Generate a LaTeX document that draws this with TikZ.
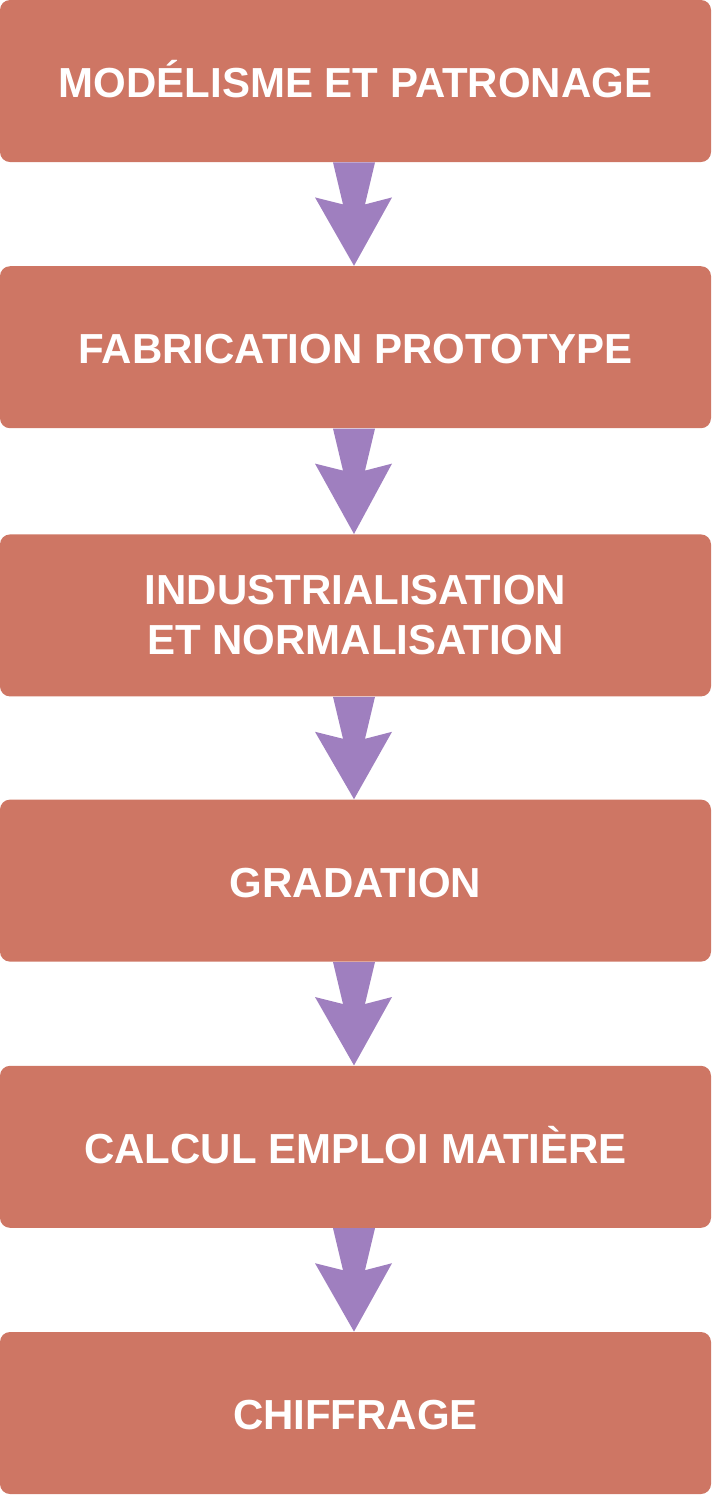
\documentclass[tikz,border=0pt]{standalone}
\usepackage{fontspec}
\setmainfont{Liberation Sans}
\usepackage{tikz}
\usetikzlibrary{calc}
\definecolor{cStage}{RGB}{206, 118, 100}
\definecolor{cFlow}{RGB}{159, 127, 191}

\begin{document}
\begin{tikzpicture}[x=0.5pt, y=0.5pt,
    stagebox/.style={fill=cStage, rounded corners=5pt, minimum width=355.5pt,
      minimum height=81pt, inner sep=0pt, text=white, align=center,
      font=\fontsize{21}{25}\selectfont\bfseries},
    oneline/.style={text height=16.4pt, text depth=0pt},
    flowarrow/.style={fill=cFlow}]

  % ---- page frame (712 x 1495) ----
  \useasboundingbox (0,0) rectangle (712,-1495);

  % ---- stages (height 162, pitch 266.2) ----
  \node[stagebox, oneline] (modelisme) at (355.5, -81)     {MODÉLISME ET PATRONAGE};
  \node[stagebox, oneline] (prototype) at (355.5, -347.2)  {FABRICATION PROTOTYPE};
  \node[stagebox]          (industrie) at (355.5, -615.4)  {INDUSTRIALISATION\\ET NORMALISATION};
  \node[stagebox, oneline] (gradation) at (355.5, -880.6)  {GRADATION};
  \node[stagebox, oneline] (matiere)   at (355.5, -1146.8) {CALCUL EMPLOI MATIÈRE};
  \node[stagebox, oneline] (chiffrage) at (355.5, -1413)   {CHIFFRAGE};

  % ---- block arrows (tapered shaft, barbs, tip on next box) ----
  \foreach \from/\to in {modelisme/prototype, prototype/industrie, industrie/gradation,
                         gradation/matiere, matiere/chiffrage}{
    \fill[flowarrow]
      ($(\from.south)+(-22.5,0)$) -- ($(\from.south)+(19.5,0)$)
      -- ($(\from.south)+(9.5,-42)$) -- ($(\from.south)+(36.5,-35)$)
      -- ($(\to.north)+(-1.5,0)$)
      -- ($(\from.south)+(-40.5,-35)$) -- ($(\from.south)+(-12.5,-42)$) -- cycle;
  }

\end{tikzpicture}
\end{document}
